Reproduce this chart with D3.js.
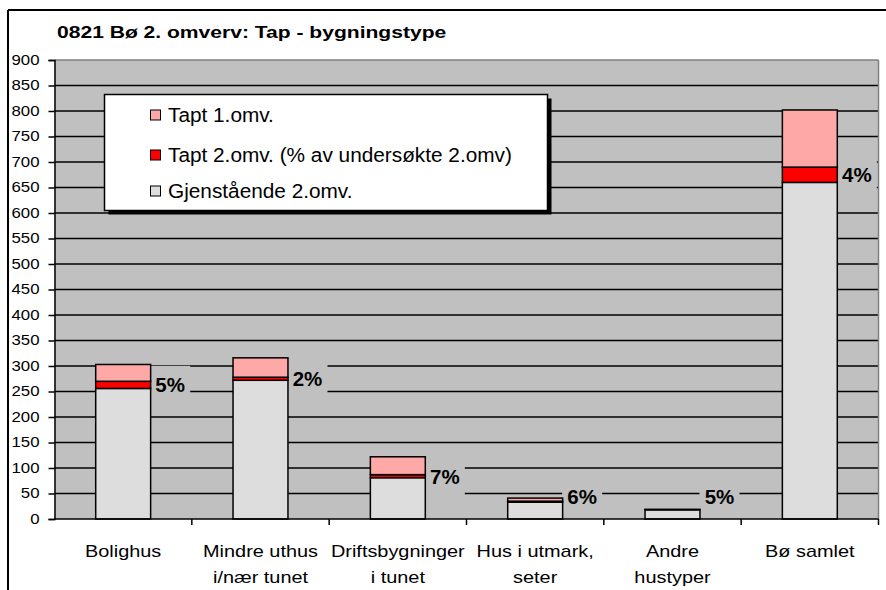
<!DOCTYPE html>
<html><head><meta charset="utf-8">
<script src="https://cdn.jsdelivr.net/npm/d3@7"></script>
<style>body{margin:0;background:#fff}svg{display:block}text{font-family:"Liberation Sans",Arial,sans-serif}</style>
</head><body>
<svg id="c" width="886" height="590"></svg>
<script>
const title = "0821 Bø 2. omverv: Tap - bygningstype";
const categories = [["Bolighus"],["Mindre uthus","i/nær tunet"],["Driftsbygninger","i tunet"],["Hus i utmark,","seter"],["Andre","hustyper"],["Bø samlet"]];
const gjenstaende = [256, 272, 81, 33, 18, 660];
const tapt2 = [14, 6, 6, 2, 1, 30];
const tapt1 = [33, 38, 35, 6, 0, 112];
const pctLabels = ["5%","2%","7%","6%","5%","4%"];
const seriesNames = ["Tapt 1.omv.","Tapt 2.omv. (% av undersøkte 2.omv)","Gjenstående 2.omv."];
const yTicks = d3.range(0, 901, 50);

const colors = {g:"#DDDDDD", t2:"#FF0000", t1:"#FFA8A8", plot:"#C0C0C0"};
const svg = d3.select("#c");
const L = 54.5, R = 878.5, T = 60, B = 519;
const keys = categories.map((c,i)=>i);
const x = d3.scaleBand().domain(keys).range([L, R]).paddingInner(0.6).paddingOuter(0.3);
const xc = d3.scaleBand().domain(keys).range([L, R]).padding(0);
const y = d3.scaleLinear().domain([0, 900]).range([B, T]);

// outer border
svg.append("line").attr("x1",8).attr("x2",886).attr("y1",10).attr("y2",10).attr("stroke","#000").attr("stroke-width",2);
svg.append("line").attr("x1",8).attr("x2",8).attr("y1",10).attr("y2",590).attr("stroke","#000").attr("stroke-width",2);

svg.append("text").attr("transform","translate(57,37.5) scale(1.24,1)").attr("font-size",17).attr("font-weight","bold").text(title);

// plot area
svg.append("rect").attr("x",L).attr("y",T).attr("width",R-L).attr("height",B-T).attr("fill",colors.plot);
svg.append("g").selectAll("line").data(yTicks.filter(v=>v>0&&v<900)).join("line")
  .attr("x1",L).attr("x2",R).attr("y1",d=>y(d)).attr("y2",d=>y(d)).attr("stroke","#000").attr("stroke-width",1.5);
svg.append("line").attr("x1",L).attr("x2",R).attr("y1",y(900)).attr("y2",y(900)).attr("stroke","#808080").attr("stroke-width",1.5);
svg.append("line").attr("x1",R).attr("x2",R).attr("y1",T).attr("y2",B).attr("stroke","#808080").attr("stroke-width",1.5);

// label backgrounds (mask gridlines)
const lblY = i => Math.min(y(gjenstaende[i] + tapt2[i]/2), y(0) - 23);
const lblX = i => xc(i) + xc.bandwidth()/2 + 47;
svg.append("g").selectAll("rect").data(keys).join("rect")
  .attr("x",i=>lblX(i)-20).attr("y",i=>lblY(i)-19).attr("width",40).attr("height",38).attr("fill",colors.plot);

// bars
const stacks = keys.map(i=>[
  {y0:0, y1:gjenstaende[i], c:colors.g},
  {y0:gjenstaende[i], y1:gjenstaende[i]+tapt2[i], c:colors.t2},
  {y0:gjenstaende[i]+tapt2[i], y1:gjenstaende[i]+tapt2[i]+tapt1[i], c:colors.t1}
]);
const bg = svg.append("g");
keys.forEach(i=>{
  bg.selectAll(null).data(stacks[i].filter(s=>s.y1>s.y0)).join("rect")
    .attr("x",x(i)).attr("width",x.bandwidth())
    .attr("y",s=>y(s.y1)).attr("height",s=>y(s.y0)-y(s.y1))
    .attr("fill",s=>s.c).attr("stroke","#000").attr("stroke-width",1.5);
});

// pct labels
svg.append("g").selectAll("text").data(keys).join("text")
  .attr("x",lblX).attr("y",i=>lblY(i)+7.5).attr("text-anchor","middle")
  .attr("font-size",20.5).attr("font-weight","bold").text(i=>pctLabels[i]);

// y axis
const ya = svg.append("g").attr("transform",`translate(${L},0)`)
  .call(d3.axisLeft(y).tickValues(yTicks).tickSize(6).tickPadding(9));
ya.select(".domain").attr("stroke","#000").attr("stroke-width",1.5);
ya.selectAll(".tick line").attr("stroke","#000").attr("stroke-width",1.5);
ya.selectAll(".tick text").attr("font-size",14).attr("fill","#000").attr("font-family","Liberation Sans, Arial, sans-serif")
  .attr("x",0).attr("transform","translate(-15,0) scale(1.2,1)");

// x axis
const xa = svg.append("g").attr("transform",`translate(0,${B})`);
xa.append("line").attr("x1",L).attr("x2",R).attr("stroke","#000").attr("stroke-width",1.5);
xa.selectAll("line.t").data(keys.map(i=>xc(i)).concat([R]).slice(1)).join("line").attr("class","t")
  .attr("x1",d=>d).attr("x2",d=>d).attr("y1",0).attr("y2",6).attr("stroke","#000").attr("stroke-width",1.5);
const xl = xa.selectAll("text").data(keys).join("text")
  .attr("text-anchor","middle").attr("font-size",17).attr("transform",i=>`translate(${xc(i)+xc.bandwidth()/2},38) scale(1.17,1)`);
xl.selectAll("tspan").data(i=>categories[i]).join("tspan").attr("x",0).attr("dy",(d,j)=>j===0?0:26).text(d=>d);

// legend
const lg = svg.append("g");
lg.append("rect").attr("x",108.5).attr("y",98.5).attr("width",443).attr("height",116).attr("fill","#000");
lg.append("rect").attr("x",104.5).attr("y",94.5).attr("width",443).attr("height",116).attr("fill","#fff").attr("stroke","#000").attr("stroke-width",1.5);
const legCols = [colors.t1, colors.t2, colors.g];
const legY = [115, 155, 191];
seriesNames.forEach((n,k)=>{
  lg.append("rect").attr("x",150.5).attr("y",legY[k]-5).attr("width",10).attr("height",10).attr("fill",legCols[k]).attr("stroke","#000").attr("stroke-width",1);
  lg.append("text").attr("transform",`translate(168,${legY[k]+7}) scale(1.04,1)`).attr("font-size",20).text(n);
});
</script>
</body></html>
